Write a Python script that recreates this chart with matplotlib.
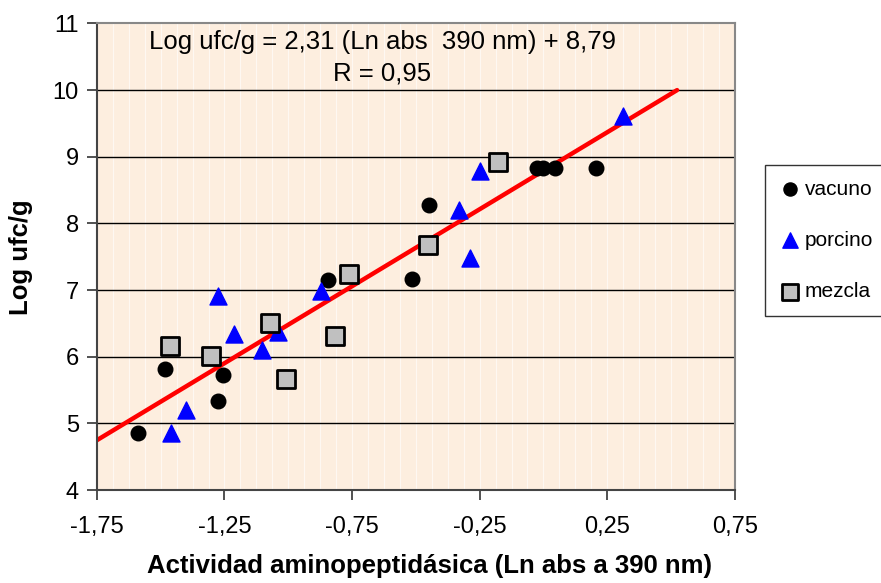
import numpy as np
import matplotlib.pyplot as plt

plt.rcParams['font.family'] = ['Liberation Sans', 'DejaVu Sans']

# data
vac_x = [-1.59, -1.484, -1.277, -1.257, -0.846, -0.514, -0.447, -0.025, 0.0, 0.046, 0.206]
vac_y = [4.85, 5.81, 5.33, 5.72, 7.15, 7.16, 8.27, 8.83, 8.83, 8.83, 8.83]

por_x = [-1.46, -1.40, -1.277, -1.214, -1.104, -1.04, -0.87, -0.33, -0.287, -0.25, 0.312]
por_y = [4.85, 5.20, 6.91, 6.34, 6.10, 6.37, 6.99, 8.20, 7.48, 8.78, 9.61]

mez_x = [-1.464, -1.304, -1.073, -1.007, -0.815, -0.76, -0.451, -0.177]
mez_y = [6.16, 6.01, 6.50, 5.66, 6.31, 7.24, 7.67, 8.92]

slope = 2.31
intercept = 8.79
fit_x = [-1.75, 0.524]

xticks = [-1.75, -1.25, -0.75, -0.25, 0.25, 0.75]
xtick_labels = ['-1,75', '-1,25', '-0,75', '-0,25', '0,25', '0,75']
yticks = [4, 5, 6, 7, 8, 9, 10, 11]

fig = plt.figure(figsize=(8.81, 5.83), dpi=100)
ax = fig.add_axes([0.110, 0.1595, 0.724, 0.8002])
ax.set_facecolor('#FDEEDF')

# faint vertical streaks of the background pattern
for xv in np.arange(-1.75, 0.76, 0.0625):
    ax.axvline(xv, color='white', lw=0.8, alpha=0.6, zorder=0)

for yv in yticks[1:-1]:
    ax.axhline(yv, color='black', lw=1.0, zorder=1)

fx = np.array(fit_x)
ax.plot(fx, slope * fx + intercept, color='#FF0000', lw=3.2, zorder=2,
        solid_capstyle='round')

ax.scatter(vac_x, vac_y, s=110, marker='o', color='black', zorder=3, label='vacuno')
ax.scatter(por_x, por_y, s=150, marker='^', color='#0000FF', zorder=3, label='porcino')
ax.scatter(mez_x, mez_y, s=150, marker='s', facecolor='#C0C0C0', edgecolor='black',
           linewidths=2, zorder=3, label='mezcla')

ax.set_xlim(-1.75, 0.75)
ax.set_ylim(4, 11)
ax.set_xticks(xticks)
ax.set_xticklabels(xtick_labels)
ax.set_yticks(yticks)
ax.tick_params(labelsize=17, direction='out', length=7, color='#333333', width=1.2)
ax.tick_params(axis='x', pad=12)
ax.tick_params(axis='y', pad=6)

for s in ['top', 'right']:
    ax.spines[s].set_color('#888888')
    ax.spines[s].set_linewidth(1.5)
for s in ['left', 'bottom']:
    ax.spines[s].set_color('#444444')
    ax.spines[s].set_linewidth(1.5)

ax.text(0.447, 0.96, 'Log ufc/g = 2,31 (Ln abs  390 nm) + 8,79', transform=ax.transAxes,
        ha='center', va='center', fontsize=18.5)
ax.text(0.447, 0.892, 'R = 0,95', transform=ax.transAxes,
        ha='center', va='center', fontsize=18.5)

ax.set_xlabel('Actividad aminopeptidásica (Ln abs a 390 nm)', fontsize=18.5,
              fontweight='bold')
ax.xaxis.set_label_coords(0.522, -0.137)
ax.set_ylabel('Log ufc/g', fontsize=18.5, fontweight='bold', labelpad=14)

leg = fig.legend(loc='upper left', bbox_to_anchor=(765 / 881, 1 - 165 / 583),
                 borderaxespad=0, fontsize=15, frameon=True, fancybox=False,
                 edgecolor='black', handletextpad=0.2, labelspacing=1.55,
                 borderpad=0.7, handlelength=1.0, markerscale=0.9)
leg.get_frame().set_linewidth(1.0)

fig.savefig('out.png', dpi=100)
